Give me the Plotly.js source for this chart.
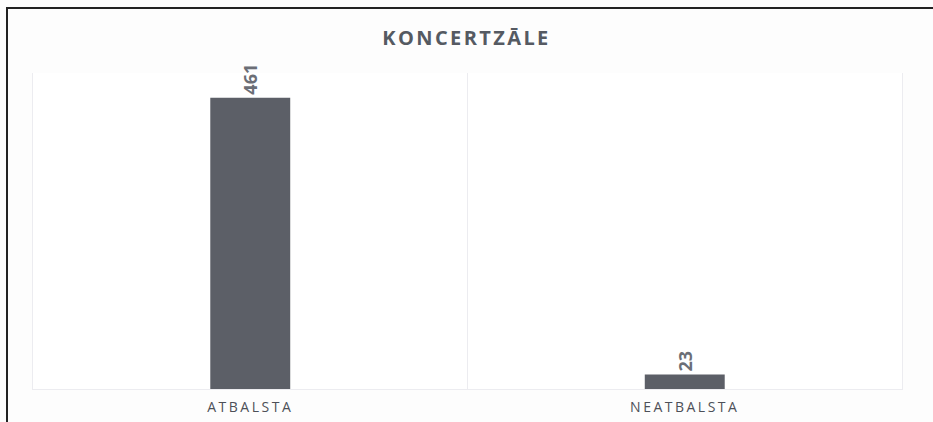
<!DOCTYPE html>
<html>
<head>
<meta charset="utf-8">
<script src="https://cdn.plot.ly/plotly-3.0.1.min.js"></script>
<style>
  html, body { margin: 0; padding: 0; background: #fdfdfd; }
  #wrap { position: relative; width: 933px; height: 422px; overflow: hidden; }
  #chart { position: absolute; left: 0; top: 0; width: 933px; height: 422px; }
  #frame { position: absolute; left: 6px; top: 7px; right: -5px; bottom: -5px;
           border-left: 2px solid #222; border-top: 2px solid #222; pointer-events: none; }
  .xtick text { letter-spacing: 2.5px; }
  .gtitle { letter-spacing: 2.4px; }
</style>
</head>
<body>
<div id="wrap">
  <div id="chart"></div>
  <div id="frame"></div>
</div>
<script>
const chartTitle = "KONCERTZĀLE";
const categories = ["ATBALSTA", "NEATBALSTA"];
const values = [461, 23];

const trace = {
  type: "bar",
  x: categories,
  y: values,
  width: 0.184,
  marker: { color: "#5c5f67" },
  text: values.map(String),
  textposition: "outside",
  textangle: -90,
  cliponaxis: false,
  textfont: { family: "Open Sans", size: 18, color: "#6b6e76", weight: 700 },
  hoverinfo: "none"
};

const layout = {
  width: 933,
  height: 422,
  margin: { l: 33, r: 31, t: 73, b: 33 },
  paper_bgcolor: "rgba(0,0,0,0)",
  plot_bgcolor: "#ffffff",
  showlegend: false,
  title: {
    text: "<b>" + chartTitle + "</b>",
    x: 0.5, xanchor: "center",
    y: 0.91, yanchor: "middle", yref: "container",
    font: { family: "Open Sans", size: 20, color: "#555a62" }
  },
  xaxis: {
    type: "category",
    tickson: "boundaries",
    showgrid: true,
    gridcolor: "#ececf0",
    gridwidth: 1,
    showline: true,
    linecolor: "#ececf0",
    linewidth: 1,
    ticks: "",
    tickfont: { family: "Open Sans", size: 14, color: "#4d5058" },
    ticklabelstandoff: 5
  },
  yaxis: {
    range: [0, 500],
    showgrid: false,
    zeroline: false,
    showline: true,
    mirror: true,
    linecolor: "#ececf0",
    linewidth: 1,
    showticklabels: false,
    ticks: ""
  },
  font: { family: "Open Sans" }
};

Plotly.newPlot("chart", [trace], layout, { displayModeBar: false, staticPlot: true });
</script>
</body>
</html>
